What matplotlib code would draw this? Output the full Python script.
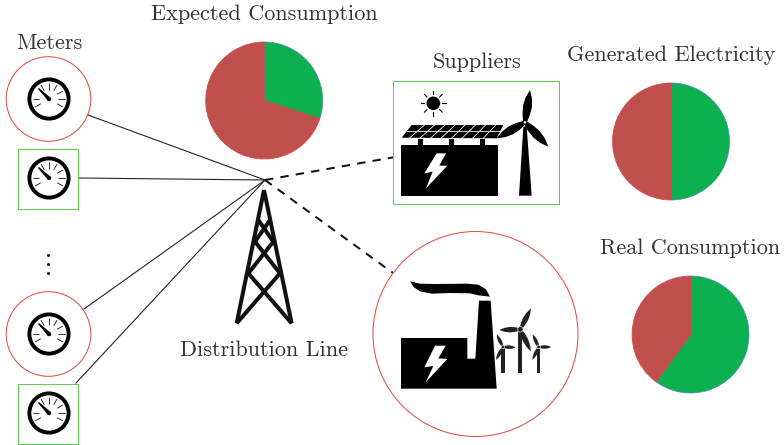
import numpy as np
import matplotlib
matplotlib.use("Agg")
import matplotlib.pyplot as plt
from matplotlib.patches import Circle, Rectangle, Polygon

# ---- data ----
pie_titles = ["Expected Consumption", "Generated Electricity", "Real Consumption"]
green_share = [30, 50, 60]
red_share = [70, 50, 40]
other_labels = ["Meters", "Suppliers", "Distribution Line"]

W, H = 784, 445
GREEN, RED = "#0DB04F", "#C0504D"
BLUE_EDGE, RED_EDGE = "#4F81BD", "#E0403A"
OUT_RED, OUT_GREEN = "#E5473F", "#5FCB50"
TXT = "#333333"
px = 72 / 100

fig = plt.figure(figsize=(W / 100, H / 100), dpi=100)
ax = fig.add_axes([0, 0, 1, 1])
ax.set_xlim(0, W)
ax.set_ylim(H, 0)
ax.axis("off")


def poly(pts, fc="black", z=5, ox=0, oy=0, s=1 / 3):
    pts = [(ox + x * s, oy + y * s) for x, y in pts]
    ax.add_patch(Polygon(pts, closed=True, fc=fc, ec="none", zorder=z))


def blade(hub, tip, width, fc="black"):
    hub, tip = np.array(hub, float), np.array(tip, float)
    d = tip - hub
    n = np.array([-d[1], d[0]]) / np.linalg.norm(d)
    pts = [hub + 0.2 * n * width, hub + 0.25 * d + 0.42 * n * width, hub + 0.5 * d + 0.5 * n * width,
           hub + 0.75 * d + 0.36 * n * width, tip,
           hub + 0.75 * d - 0.36 * n * width, hub + 0.5 * d - 0.5 * n * width,
           hub + 0.25 * d - 0.42 * n * width, hub - 0.2 * n * width]
    ax.add_patch(Polygon(pts, closed=True, fc=fc, ec="none", zorder=6))


def gauge(cx, cy):
    ax.add_patch(Circle((cx, cy), 19.6, fc="white", ec="black", lw=3.9 * px, zorder=5))
    for a in [90, 60, 30, 0, -30, 120, 180, 210]:
        r = np.radians(a)
        ax.plot([cx + 9.5 * np.cos(r), cx + 16 * np.cos(r)],
                [cy - 9.5 * np.sin(r), cy - 16 * np.sin(r)],
                color="#222222", lw=0.9 * px, zorder=6, solid_capstyle="butt")
    ax.add_patch(Polygon([(cx - 11, cy - 10), (cx - 10, cy - 11), (cx + 1.2, cy - 1.5),
                          (cx - 1.5, cy + 1.2)], fc="black", ec="none", zorder=7))
    ax.add_patch(Circle((cx, cy), 2.2, fc="black", ec="none", zorder=7))


# connecting lines
hub = (265, 180)
for p in [(88, 115), (78.5, 178), (84, 309), (76, 383)]:
    ax.plot([p[0], hub[0]], [p[1], hub[1]], color="#222222", lw=1.1 * px, zorder=2)
for p in [(395, 157), (393, 273)]:
    ax.plot([hub[0], p[0]], [hub[1], p[1]], color="#111111", lw=2 * px, zorder=2,
            dashes=(4.2, 3.6))

# meters
for cy in (99, 334):
    ax.add_patch(Circle((48.5, cy), 42.3, fc="white", ec=OUT_RED, lw=1 * px, zorder=3))
    gauge(49, cy)
for y0 in (148.5, 383.5):
    ax.add_patch(Rectangle((18.5, y0), 60, 60, fc="white", ec=OUT_GREEN, lw=1 * px, zorder=3))
    gauge(49, y0 + 29.5)
ax.plot([48] * 3, [254.7, 263.7, 272.7], ls="none", marker="o", ms=1.2, color="#222222")

# tower (220, 170 origin, zoom 1/3)
segs = [((132, 60), (50, 460)), ((132, 60), (215, 460)),
        ((85, 310), (215, 460)), ((180, 310), (50, 460)),
        ((85, 310), (160, 215)), ((180, 310), (105, 215)),
        ((105, 215), (150, 150)), ((160, 215), (115, 150))]
for a, b in segs:
    ax.plot([220 + a[0] / 3, 220 + b[0] / 3], [170 + a[1] / 3, 170 + b[1] / 3],
            color="#111111", lw=4.0 * px, zorder=4, solid_capstyle="butt")

# supplier box
ax.add_patch(Rectangle((393.5, 81), 165.5, 122.5, fc="white", ec=OUT_GREEN, lw=1 * px, zorder=3))
OX, OY = 390, 75
poly([(33, 210), (323, 210), (323, 362), (33, 362)], ox=OX, oy=OY)
for x0 in (85, 177, 270):
    poly([(x0, 192), (x0 + 14, 192), (x0 + 14, 210), (x0, 210)], ox=OX, oy=OY)
poly([(140, 235), (168, 235), (148, 272), (172, 272), (108, 340), (128, 290), (103, 295)],
     fc="white", z=6, ox=OX, oy=OY)
poly([(65, 150), (340, 150), (320, 190), (35, 188)], ox=OX, oy=OY)
for t in np.linspace(0, 1, 10)[1:-1]:
    x_top, x_bot = 65 + t * 275, 35 + t * 285
    ax.plot([OX + (x_top + 8) / 3, OX + (x_bot - 8) / 3], [OY + 150 / 3, OY + 189 / 3],
            color="white", lw=0.8 * px, zorder=6)
ax.plot([OX + 50 / 3, OX + 330 / 3], [OY + 168 / 3, OY + 168 / 3], color="white", lw=0.8 * px, zorder=6)
sc = (OX + 130 / 3, OY + 85 / 3)
ax.add_patch(Circle(sc, 6.8, fc="black", ec="none", zorder=6))
for a in range(0, 360, 45):
    r = np.radians(a)
    ax.plot([sc[0] + 9 * np.cos(r), sc[0] + 12.5 * np.cos(r)],
            [sc[1] + 9 * np.sin(r), sc[1] + 12.5 * np.sin(r)], color="black", lw=1.1 * px, zorder=6)
h = (OX + 405 / 3, OY + 142 / 3)
poly([(400, 155), (410, 155), (425, 362), (387, 362)], ox=OX, oy=OY)
blade(h, (OX + 420 / 3, OY + 45 / 3), 9)
blade(h, (OX + 320 / 3, OY + 190 / 3), 9)
blade(h, (OX + 475 / 3, OY + 215 / 3), 9)
ax.add_patch(Circle(h, 1.3, fc="white", ec="none", zorder=7))

# factory
ax.add_patch(Circle((475.5, 334), 102.5, fc="white", ec=OUT_RED, lw=1 * px, zorder=3))
OX, OY = 370, 240
poly([(93, 294), (292, 294), (292, 356), (316, 356), (327, 182), (362, 182), (380, 446), (93, 446)],
     ox=OX, oy=OY)
poly([(195, 317), (227, 317), (205, 355), (232, 357), (167, 427), (190, 378), (163, 382)],
     fc="white", z=6, ox=OX, oy=OY)
poly([(120, 124), (150, 131), (200, 132), (290, 131), (325, 134), (348, 148), (360, 170),
      (325, 166), (300, 160), (240, 159), (185, 161), (150, 154), (132, 142)], ox=OX, oy=OY)
turbines = [((451, 268), 6.5, 400, [(483, 205), (388, 270), (483, 335)], 5.5),
            ((399, 321), 5.5, 400, [(380, 283), (437, 322), (378, 360)], 3.6),
            ((506, 321), 5.5, 400, [(488, 283), (544, 321), (487, 360)], 3.6)]
for (hx, hy), hw, yb, tips, bw in turbines:
    poly([(hx - hw, hy), (hx + hw, hy), (hx + hw, yb), (hx - hw, yb)], fc="#222222", ox=OX, oy=OY)
    hb = (OX + hx / 3, OY + hy / 3)
    for tx, ty in tips:
        blade(hb, (OX + tx / 3, OY + ty / 3), bw, fc="#222222")
    ax.add_patch(Circle(hb, bw * 0.5, fc="#222222", ec="white", lw=0.6 * px, zorder=7))

# pies
pie_boxes = [(264.2, 100.5), (671, 141.5), (690.5, 334.5)]
R = 58.5
for (cx, cy), g, r in zip(pie_boxes, green_share, red_share):
    pa = fig.add_axes([(cx - R - 1) / W, 1 - (cy + R + 1) / H, (2 * R + 2) / W, (2 * R + 2) / H])
    wedges, _ = pa.pie([g, r], startangle=90, counterclock=False, colors=[GREEN, RED],
                       radius=R / (R + 1))
    pa.set_xlim(-1, 1)
    pa.set_ylim(-1, 1)
    wedges[0].set(edgecolor=BLUE_EDGE, linewidth=0.7 * px)
    wedges[1].set(edgecolor=RED_EDGE, linewidth=0.7 * px, zorder=3)

# text
FS = 16
tpos = [(264, 14), (671, 55), (690, 248)]
for s, (x, y) in zip(pie_titles, tpos):
    ax.text(x, y, s, family="cmr10", fontsize=FS, color=TXT, ha="center", va="center", zorder=10)
for s, (x, y) in zip(other_labels, [(49, 43), (477, 62), (264, 350)]):
    ax.text(x, y, s, family="cmr10", fontsize=FS, color=TXT, ha="center", va="center", zorder=10)

fig.savefig("out.png", dpi=100)
